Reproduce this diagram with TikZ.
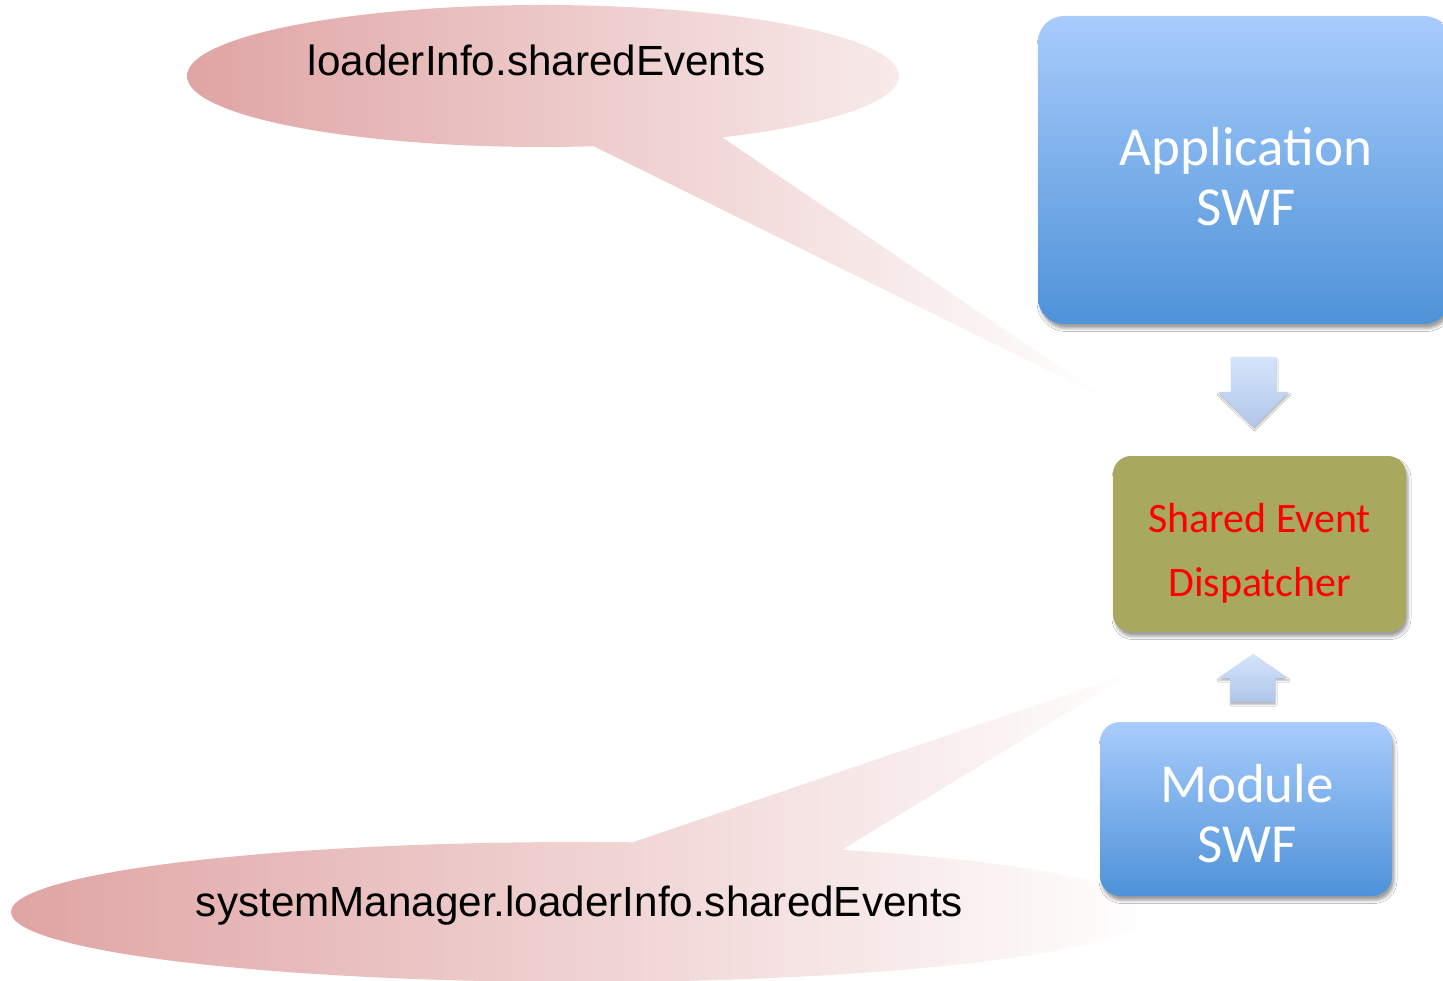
\documentclass[tikz,border=0pt]{standalone}
\usepackage{fontspec}
\setmainfont{Liberation Sans}
\newfontfamily\boxfont{Carlito}
\usetikzlibrary{shadows.blur}

\definecolor{calloutpink}{RGB}{224,164,164}
\definecolor{boxtop}{RGB}{168,204,252}
\definecolor{boxbottom}{RGB}{78,146,216}
\definecolor{olivebox}{RGB}{169,168,95}
\definecolor{arrowtop}{RGB}{212,228,251}
\definecolor{arrowbottom}{RGB}{176,198,234}

\tikzset{
  boxshadow/.style={blur shadow={shadow xshift=2pt, shadow yshift=-4.5pt,
      shadow blur radius=3pt, shadow opacity=38}},
  swfbox/.style={rounded corners=26pt, top color=boxtop, bottom color=boxbottom,
      draw=none, boxshadow},
  dispbox/.style={rounded corners=18pt, fill=olivebox, draw=none, boxshadow},
  swflabel/.style={font=\boxfont\fontsize{55}{60}\selectfont, text=white,
      align=center, inner sep=0pt},
  displabel/.style={font=\boxfont\fontsize{42}{64}\selectfont, text=red,
      align=center, inner sep=0pt},
  calloutfill/.style={left color=calloutpink, right color=white},
  calloutlabel/.style={font=\fontsize{42.2}{50}\selectfont, text=black,
      anchor=base, inner sep=0pt},
  blockarrow/.style={top color=arrowtop, bottom color=arrowbottom,
      blur shadow={shadow xshift=0.5pt, shadow yshift=-2.5pt,
      shadow blur radius=1.5pt, shadow opacity=28}},
}

\begin{document}
\begin{tikzpicture}[x=1pt,y=-1pt]
  \useasboundingbox (0,0) rectangle (1443,981);
  \clip (0,0) rectangle (1443,981);
  \fill[white] (0,0) rectangle (1443,981);

  % speech-bubble callouts (ellipse plus pointer, one shading each)
  \shade[calloutfill] (543,76) ellipse [x radius=356, y radius=71]
        (707,127) -- (1108,400) -- (573,136) -- cycle;
  \shade[calloutfill] (581,912) ellipse [x radius=570, y radius=70]
        (610,850) -- (1134,672) -- (825,860) -- cycle;

  \node[calloutlabel] (toplabel) at (536.5,76) {loaderInfo.sharedEvents};
  \node[calloutlabel] (bottomlabel) at (579.5,916) {systemManager.loaderInfo.sharedEvents};

  % boxes
  \node[swfbox, minimum width=412pt, minimum height=308pt] (app) at (1244,170) {};
  \node[swflabel] (apptext) at (1246,177) {Application\\SWF};

  \node[dispbox, minimum width=293pt, minimum height=176pt] (sed) at (1259.5,544) {};
  \node[displabel] (sedtext) at (1259.5,553.5) {Shared Event\\Dispatcher};

  \node[swfbox, rounded corners=20pt, minimum width=292pt, minimum height=174pt] (mod) at (1246,809) {};
  \node[swflabel] (modtext) at (1247,814) {Module\\SWF};

  % block arrows between the boxes
  \coordinate (downtip) at (1254,427);
  \coordinate (uptip) at (1253,654);
  \shade[blockarrow] (downtip) -- ++(35,-35) -- ++(-13,0) -- ++(0,-35)
        -- ++(-45,0) -- ++(0,35) -- ++(-13,0) -- cycle;
  \shade[blockarrow] (uptip) -- ++(35,24) -- ++(-13,0) -- ++(0,24)
        -- ++(-45,0) -- ++(0,-24) -- ++(-12,0) -- cycle;
\end{tikzpicture}
\end{document}
